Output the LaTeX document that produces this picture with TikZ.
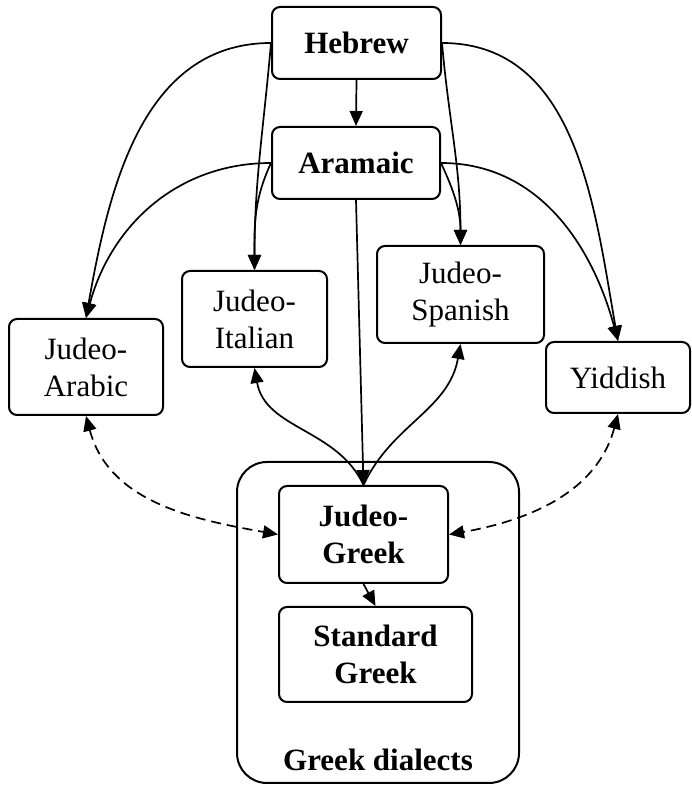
\documentclass[tikz,border=0pt]{standalone}
\usepackage{fontspec}
\setmainfont{Liberation Serif}
\usetikzlibrary{arrows.meta}
\begin{document}
\begin{tikzpicture}[x=1pt,y=1pt,
  box/.style={draw, line width=2pt, rounded corners=8pt, inner sep=0pt, align=center,
    font=\fontsize{31}{37}\selectfont},
  bbox/.style={box, font=\fontsize{31}{37}\selectfont\bfseries},
  conn/.style={line width=1.7pt, -{Triangle[length=15pt,width=13pt]}},
  dconn/.style={line width=1.7pt, {Triangle[length=15pt,width=13pt]}-{Triangle[length=15pt,width=13pt]},
    dash pattern=on 10pt off 6pt}]
\useasboundingbox (0,0) rectangle (692,795);
\fill[white] (0,0) rectangle (692,795);
% big container
\node[draw, line width=2pt, rounded corners=30pt, minimum width=282pt, minimum height=321pt, inner sep=0pt] (big) at (378,172.5) {};
\node[anchor=base, font=\fontsize{31}{37}\selectfont\bfseries] (gd) at (378,24) {Greek dialects};
% nodes
\node[bbox, minimum width=169pt, minimum height=72pt] (heb) at (356.5,752) {Hebrew};
\node[bbox, minimum width=168pt, minimum height=72pt] (ara) at (356,632) {Aramaic};
\node[box, minimum width=145pt, minimum height=96pt] (ita) at (254.5,476) {Judeo-\\Italian};
\node[box, minimum width=167pt, minimum height=97pt] (spa) at (460.5,500.5) {Judeo-\\Spanish};
\node[box, minimum width=154pt, minimum height=96pt] (arab) at (86,428) {Judeo-\\Arabic};
\node[box, minimum width=144pt, minimum height=71pt] (yid) at (618,417.5) {Yiddish};
\node[bbox, minimum width=169pt, minimum height=97pt] (jg) at (363.5,260.5) {Judeo-\\Greek};
\node[bbox, minimum width=193pt, minimum height=95pt] (sg) at (375.5,140.5) {Standard\\Greek};
% connectors from Hebrew
\draw[conn] (heb.south) -- (ara.north);
\draw[conn] (heb.west) to[out=180, in=80] (arab.north);
\draw[conn] (heb.west) to[out=-95, in=90] (ita.north);
\draw[conn] (heb.east) to[out=-85, in=90] (spa.north);
\draw[conn] (heb.east) to[out=0, in=100] (yid.north);
% connectors from Aramaic
\draw[conn] (ara.west) to[out=180, in=75] (arab.north);
\draw[conn] (ara.west) to[out=-115, in=90] (ita.north);
\draw[conn] (ara.east) to[out=-65, in=90] (spa.north);
\draw[conn] (ara.east) to[out=0, in=105] (yid.north);
\draw[conn] (ara.south) -- (jg.north);
% from Judeo-Greek
\draw[conn] (jg.north) to[out=115, in=-80] (ita.south);
\draw[conn] (jg.north) to[out=65, in=-100] (spa.south);
\draw[conn] (jg.south) -- (sg.north);
\draw[dconn] (arab.south) to[out=-75, in=170] (jg.west);
\draw[dconn] (yid.south) to[out=-105, in=10] (jg.east);
\end{tikzpicture}
\end{document}
